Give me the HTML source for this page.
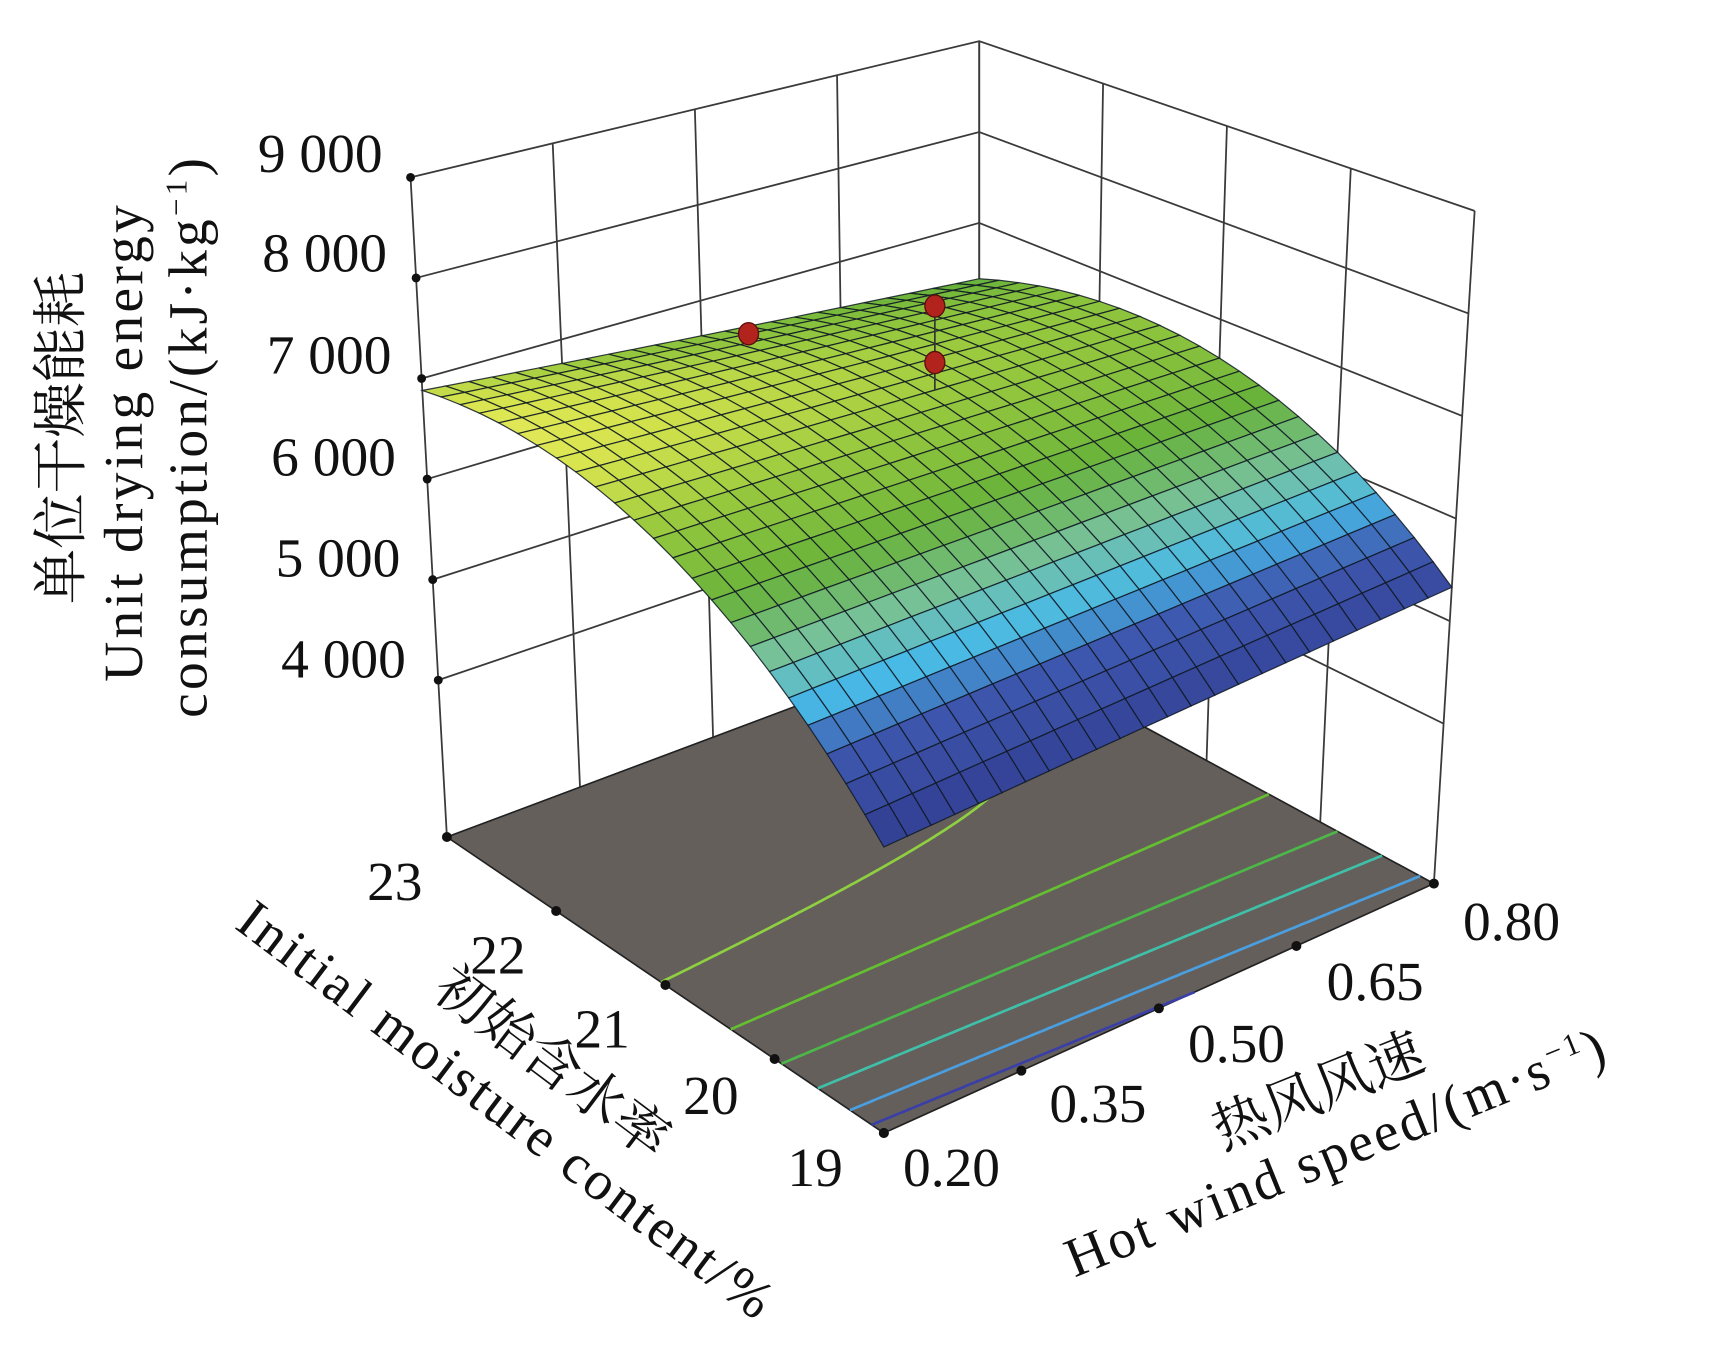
<!DOCTYPE html>
<html><head><meta charset="utf-8"><style>
html,body{margin:0;padding:0;background:#fff;width:1730px;height:1347px;overflow:hidden}
svg{display:block}
text{font-family:"Liberation Serif","Noto Serif CJK SC","Noto Sans CJK SC",serif;fill:#111}
</style></head><body>
<svg id="s" width="1730" height="1347" viewBox="0 0 1560 1215" preserveAspectRatio="none" xmlns="http://www.w3.org/2000/svg">
<g id="walls"></g><g id="floor"></g><g id="surf"></g><g id="pts"></g>
<g font-size="50">
<text x="345" y="155" text-anchor="end">9 000</text>
<text x="349" y="245" text-anchor="end">8 000</text>
<text x="353" y="337" text-anchor="end">7 000</text>
<text x="357" y="429" text-anchor="end">6 000</text>
<text x="361" y="520" text-anchor="end">5 000</text>
<text x="366" y="611" text-anchor="end">4 000</text>
<text x="356" y="812" text-anchor="middle">23</text>
<text x="449" y="878" text-anchor="middle">22</text>
<text x="543" y="945" text-anchor="middle">21</text>
<text x="641" y="1005" text-anchor="middle">20</text>
<text x="735" y="1070" text-anchor="middle">19</text>
<text x="858" y="1070" text-anchor="middle">0.20</text>
<text x="990" y="1012" text-anchor="middle">0.35</text>
<text x="1115" y="958" text-anchor="middle">0.50</text>
<text x="1240" y="902" text-anchor="middle">0.65</text>
<text x="1363" y="848" text-anchor="middle">0.80</text>
<text transform="translate(72,395) rotate(-90)" text-anchor="middle">单位干燥能耗</text>
<text transform="translate(128,400) rotate(-90)" text-anchor="middle" textLength="430">Unit drying energy</text>
<text transform="translate(186,395) rotate(-90)" text-anchor="middle" textLength="505">consumption/(kJ·kg<tspan font-size="28" dy="-18">−1</tspan><tspan dy="18">)</tspan></text>
<text transform="translate(488,972) rotate(37)" text-anchor="middle">初始含水率</text>
<text transform="translate(446,1014) rotate(37)" text-anchor="middle" textLength="590">Initial moisture content/%</text>
<text transform="translate(1195,1000) rotate(-22)" text-anchor="middle">热风风速</text>
<text transform="translate(1210,1055) rotate(-22)" text-anchor="middle" textLength="520">Hot wind speed/(m·s<tspan font-size="28" dy="-18">−1</tspan><tspan dy="18">)</tspan></text>
</g>
</svg>
<script>
var NS="http://www.w3.org/2000/svg";
var C={f:[797,1022],r:[1293,797],l:[403,755],b:[883,575]};
var K={f:97,r:92.5,l:90.7,b:82};var D={f:0,r:5.6,l:-5.0,b:0};
function bl(s,m,a){return a.f*(1-s)*(1-m)+a.r*s*(1-m)+a.l*(1-s)*m+a.b*s*m;}
function P(s,m,z){var fx=bl(s,m,{f:C.f[0],r:C.r[0],l:C.l[0],b:C.b[0]}),fy=bl(s,m,{f:C.f[1],r:C.r[1],l:C.l[1],b:C.b[1]});
var k=bl(s,m,K),d=bl(s,m,D),h=(z-2440)/1000;return [fx+d*h,fy-k*h];}
function el(g,t,a){var e=document.createElementNS(NS,t);for(var x in a)e.setAttribute(x,a[x]);document.getElementById(g).appendChild(e);return e;}
function pts(a){return a.map(function(p){return p[0].toFixed(1)+","+p[1].toFixed(1)}).join(" ");}
function Z(s,m){var q=(m-0.8)/0.8;return 5100+1900*(1-q*q)+s*(230-725*m);}
el("walls","polygon",{points:pts([P(0,1,2440),P(0,1,9000),P(1,1,9000),P(1,1,2440)]),fill:"#fff"});
var ws={stroke:"#3a3a3a","stroke-width":1.6,fill:"none"};
for(var z=4000;z<=9000;z+=1000){el("walls","polyline",Object.assign({points:pts([P(0,1,z),P(1,1,z),P(1,0,z)])},ws));}
[0,0.25,0.5,0.75,1].forEach(function(t){el("walls","line",Object.assign({x1:P(t,1,2440)[0],y1:P(t,1,2440)[1],x2:P(t,1,9000)[0],y2:P(t,1,9000)[1]},ws));
el("walls","line",Object.assign({x1:P(1,t,2440)[0],y1:P(1,t,2440)[1],x2:P(1,t,9000)[0],y2:P(1,t,9000)[1]},ws));});
[4000,5000,6000,7000,8000,9000].forEach(function(z){var p=P(0,1,z);el("walls","circle",{cx:p[0],cy:p[1],r:4,fill:"#111"});});
el("floor","polygon",{points:pts([P(0,0,2440),P(1,0,2440),P(1,1,2440),P(0,1,2440)]),fill:"#655f5c",stroke:"#222","stroke-width":1.5});
var lev=[[5230,"#3a3fa8"],[5450,"#4a9fe0"],[5750,"#3fc0a8"],[6050,"#4cb848"],[6400,"#64c030"],[6750,"#8fd040"]];
lev.forEach(function(L){var segs=[],cur=[];
 for(var i=0;i<=200;i++){var s=i/200,found=null;
  for(var j=0;j<400;j++){var m0=j/400,m1=(j+1)/400,a=Z(s,m0)-L[0],b=Z(s,m1)-L[0];if(a*b<=0&&m0<0.8){found=m0+(m1-m0)*a/(a-b);break;}}
  if(found!==null)cur.push(P(s,found,2440));else if(cur.length){segs.push(cur);cur=[];}}
 if(cur.length)segs.push(cur);
 segs.forEach(function(sg){el("floor","polyline",{points:pts(sg),fill:"none",stroke:L[1],"stroke-width":2.4});});});
[0,0.25,0.5,0.75,1].forEach(function(t){var p=P(0,t,2440);el("floor","circle",{cx:p[0],cy:p[1],r:4.5,fill:"#111"});p=P(t,0,2440);el("floor","circle",{cx:p[0],cy:p[1],r:4.5,fill:"#111"});});
var stops=[[5200,[52,66,150]],[5650,[62,88,175]],[5900,[72,185,230]],[6150,[120,194,160]],[6450,[104,178,58]],[6750,[150,200,62]],[6950,[215,228,78]],[7100,[244,240,106]]];
function col(z){if(z<=stops[0][0])return stops[0][1];for(var i=1;i<stops.length;i++){if(z<=stops[i][0]){var t=(z-stops[i-1][0])/(stops[i][0]-stops[i-1][0]);return stops[i-1][1].map(function(v,k){return Math.round(v+(stops[i][1][k]-v)*t)});}}return stops[stops.length-1][1];}
var N=24,q=[];
for(var i=0;i<N;i++)for(var j=0;j<N;j++)q.push([i,j]);
q.sort(function(a,b){return (b[0]+b[1])-(a[0]+a[1]);});
q.forEach(function(c){var s0=c[0]/N,s1=(c[0]+1)/N,m0=c[1]/N,m1=(c[1]+1)/N;
 var zc=Z((s0+s1)/2,(m0+m1)/2),cc=col(zc);
 el("surf","polygon",{points:pts([P(s0,m0,Z(s0,m0)),P(s1,m0,Z(s1,m0)),P(s1,m1,Z(s1,m1)),P(s0,m1,Z(s0,m1))]),fill:"rgb("+cc.join(",")+")",stroke:"rgba(15,25,35,0.85)","stroke-width":1.1});});
el("pts","line",{x1:843,y1:276,x2:843,y2:352,stroke:"#333","stroke-width":1.5});
[[675,301],[843,276],[843,327]].forEach(function(p){el("pts","ellipse",{cx:p[0],cy:p[1],rx:9,ry:10,fill:"#b3231e",stroke:"#5a0f0c","stroke-width":1.2});});
</script>
</body></html>
